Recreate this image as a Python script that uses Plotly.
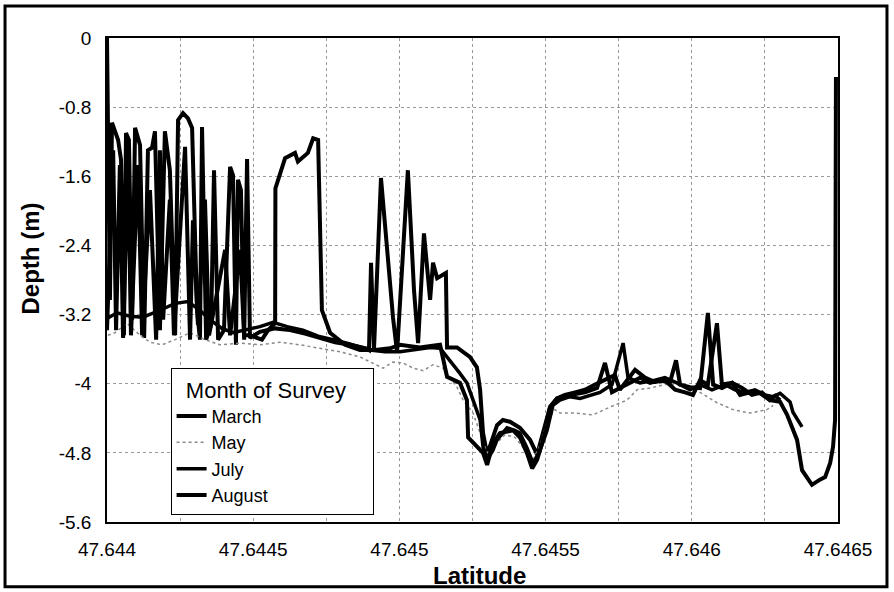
import plotly.graph_objects as go

# ---------------- data ----------------
march_lat = [47.644000, 47.644003, 47.644010, 47.644017, 47.644038, 47.644048, 47.644058, 47.644065,
             47.644075, 47.644086, 47.644096, 47.644113, 47.644127, 47.644140, 47.644154, 47.644164,
             47.644181, 47.644198, 47.644215, 47.644233, 47.644243, 47.644260, 47.644277, 47.644291,
             47.644308, 47.644318, 47.644325, 47.644339, 47.644356, 47.644366, 47.644380, 47.644400,
             47.644421, 47.644431, 47.644441, 47.644448, 47.644458, 47.644469, 47.644479, 47.644489,
             47.644523, 47.644575, 47.644626, 47.644677, 47.644728, 47.644780, 47.644831, 47.644886,
             47.644896, 47.644903, 47.644913, 47.644937, 47.644978, 47.644992, 47.645029, 47.645050,
             47.645064, 47.645084, 47.645105, 47.645115, 47.645129, 47.645159, 47.645163, 47.645197,
             47.645241, 47.645265, 47.645276, 47.645286, 47.645300, 47.645317, 47.645334, 47.645354,
             47.645378, 47.645412, 47.645447, 47.645471, 47.645491, 47.645515, 47.645539, 47.645583,
             47.645635, 47.645676, 47.645703, 47.645727, 47.645754, 47.645789, 47.645823, 47.645857,
             47.645891, 47.645925, 47.645946, 47.645960, 47.645994, 47.646028, 47.646055, 47.646073,
             47.646103, 47.646138, 47.646165, 47.646199, 47.646233, 47.646267, 47.646302, 47.646326,
             47.646360, 47.646377, 47.646411, 47.646438, 47.646456, 47.646473, 47.646483, 47.646490,
             47.646493]
march_depth = [0.00, -0.83, -3.03, -0.98, -1.18, -1.41, -3.44, -1.10,
               -1.18, -3.26, -1.04, -1.24, -3.47, -1.30, -1.27, -1.08,
               -3.38, -1.08, -1.53, -3.44, -0.95, -0.87, -0.93, -1.04,
               -3.15, -3.49, -1.03, -3.49, -3.32, -1.53, -3.49, -3.38,
               -1.49, -1.59, -3.55, -1.64, -1.76, -3.49, -1.40, -3.47,
               -3.40, -3.36, -3.38, -3.42, -3.47, -3.52, -3.55, -3.59,
               -3.61, -2.60, -3.61, -1.62, -3.23, -3.64, -1.53, -2.92,
               -3.53, -2.26, -3.03, -2.60, -2.78, -2.72, -3.58, -3.58,
               -3.69, -3.81, -4.07, -4.57, -4.82, -4.65, -4.48, -4.42,
               -4.44, -4.51, -4.65, -4.82, -4.57, -4.27, -4.17, -4.13,
               -4.10, -4.05, -3.76, -4.10, -4.05, -3.99, -3.93, -3.99,
               -3.96, -3.99, -3.73, -4.01, -4.04, -4.05, -3.18, -4.01,
               -4.05, -3.99, -4.13, -4.10, -4.11, -4.19, -4.21, -4.36,
               -4.65, -5.00, -5.17, -5.11, -5.08, -4.92, -4.73, -4.42,
               -0.45]

may_lat = [47.644003, 47.644027, 47.644068, 47.644113, 47.644147, 47.644188, 47.644233, 47.644284,
           47.644335, 47.644386, 47.644455, 47.644523, 47.644592, 47.644660, 47.644728, 47.644797,
           47.644865, 47.644944, 47.644978, 47.645012, 47.645047, 47.645081, 47.645115, 47.645149,
           47.645197, 47.645218, 47.645252, 47.645276, 47.645300, 47.645327, 47.645361, 47.645395,
           47.645430, 47.645457, 47.645481, 47.645508, 47.645532, 47.645549, 47.645601, 47.645662,
           47.645720, 47.645778, 47.645813, 47.645857, 47.645908, 47.645960, 47.646028, 47.646086,
           47.646141, 47.646199, 47.646257, 47.646278]
may_depth = [-3.44, -3.41, -3.30, -3.44, -3.52, -3.55, -3.49, -3.41,
             -3.49, -3.55, -3.53, -3.55, -3.52, -3.55, -3.59, -3.63,
             -3.69, -3.82, -3.75, -3.76, -3.82, -3.85, -3.78, -3.82,
             -4.04, -4.19, -4.34, -4.57, -4.80, -4.71, -4.59, -4.62,
             -4.77, -4.88, -4.71, -4.42, -4.30, -4.34, -4.34, -4.36,
             -4.27, -4.19, -4.07, -4.05, -4.01, -4.01, -4.10, -4.22,
             -4.30, -4.34, -4.30, -4.25]

july_lat = [47.644003, 47.644034, 47.644079, 47.644123, 47.644181, 47.644233, 47.644277, 47.644318,
            47.644352, 47.644393, 47.644431, 47.644472, 47.644523, 47.644568, 47.644616, 47.644670,
            47.644722, 47.644773, 47.644821, 47.644899, 47.644951, 47.645002, 47.645053, 47.645105,
            47.645139, 47.645173, 47.645207, 47.645231, 47.645252, 47.645276, 47.645286, 47.645300,
            47.645320, 47.645334, 47.645368, 47.645395, 47.645412, 47.645436, 47.645457, 47.645481,
            47.645505, 47.645525, 47.645549, 47.645583, 47.645618, 47.645652, 47.645686, 47.645727,
            47.645765, 47.645782, 47.645823, 47.645874, 47.645908, 47.645949, 47.645994, 47.646028,
            47.646069, 47.646114, 47.646148, 47.646182, 47.646216, 47.646250, 47.646278, 47.646302,
            47.646336, 47.646346, 47.646377]
july_depth = [-3.24, -3.18, -3.22, -3.23, -3.15, -3.07, -3.05, -3.15,
              -3.26, -3.36, -3.41, -3.38, -3.34, -3.29, -3.34, -3.38,
              -3.45, -3.49, -3.53, -3.61, -3.63, -3.63, -3.61, -3.58,
              -3.59, -3.73, -3.88, -3.99, -4.19, -4.42, -4.73, -4.88,
              -4.77, -4.65, -4.51, -4.54, -4.57, -4.74, -4.92, -4.77,
              -4.54, -4.25, -4.19, -4.15, -4.17, -4.13, -4.10, -4.01,
              -3.53, -3.93, -3.99, -3.96, -3.93, -3.99, -4.07, -4.01,
              -4.07, -4.01, -4.07, -4.10, -4.07, -4.13, -4.15, -4.11,
              -4.21, -4.33, -4.50]

august_lat = [47.644000, 47.644021, 47.644031, 47.644044, 47.644055, 47.644072, 47.644082, 47.644106,
              47.644120, 47.644147, 47.644168, 47.644181, 47.644192, 47.644215, 47.644229, 47.644267,
              47.644284, 47.644294, 47.644311, 47.644335, 47.644349, 47.644404, 47.644421, 47.644455,
              47.644469, 47.644489, 47.644530, 47.644551, 47.644575, 47.644576, 47.644609, 47.644643,
              47.644653, 47.644687, 47.644705, 47.644722, 47.644735, 47.644763, 47.644814, 47.644865,
              47.644917, 47.644968, 47.645002, 47.645070, 47.645139, 47.645163, 47.645207, 47.645231,
              47.645235, 47.645265, 47.645286, 47.645300, 47.645320, 47.645344, 47.645389, 47.645412,
              47.645436, 47.645454, 47.645471, 47.645505, 47.645515, 47.645539, 47.645566, 47.645601,
              47.645635, 47.645669, 47.645703, 47.645737, 47.645754, 47.645806, 47.645840, 47.645874,
              47.645908, 47.645943, 47.645977, 47.646004, 47.646028, 47.646055, 47.646086, 47.646103,
              47.646138, 47.646172, 47.646206, 47.646240, 47.646267, 47.646285, 47.646302]
august_depth = [-3.38, -1.30, -3.38, -1.47, -3.47, -1.41, -3.44, -1.47,
                -3.44, -1.76, -3.49, -1.30, -3.26, -1.87, -3.44, -1.26,
                -3.49, -2.11, -3.32, -1.87, -3.44, -2.45, -3.44, -2.45,
                -3.44, -3.44, -3.49, -3.38, -3.30, -1.74, -1.39, -1.33,
                -1.43, -1.33, -1.16, -1.18, -3.15, -3.41, -3.55, -3.61,
                -3.61, -3.59, -3.55, -3.58, -3.55, -3.92, -3.99, -4.19,
                -4.62, -4.73, -4.80, -4.94, -4.69, -4.57, -4.54, -4.62,
                -4.80, -4.98, -4.88, -4.50, -4.27, -4.17, -4.13, -4.10,
                -4.07, -4.01, -3.96, -3.90, -4.07, -3.84, -3.93, -3.98,
                -3.96, -4.07, -4.10, -4.13, -3.96, -4.01, -3.30, -4.01,
                -3.99, -4.05, -4.13, -4.10, -4.19, -4.14, -4.19]

y_tick_vals = [0, -0.8, -1.6, -2.4, -3.2, -4.0, -4.8, -5.6]
y_tick_text = ["0", "-0.8", "-1.6", "-2.4", "-3.2", "-4", "-4.8", "-5.6"]
x_tick_vals = [47.644, 47.64425, 47.6445, 47.64475, 47.645, 47.64525, 47.6455,
               47.64575, 47.646, 47.64625, 47.6465]
x_tick_text = ["47.644", "", "47.6445", "", "47.645", "", "47.6455",
               "", "47.646", "", "47.6465"]

# ---------------- figure ----------------
FONT = "Liberation Sans, Arial, sans-serif"
NB = "\u00a0"
fig = go.Figure()
fig.add_trace(go.Scatter(x=march_lat, y=march_depth, mode="lines", name="March",
                         line=dict(color="black", width=4)))
fig.add_trace(go.Scatter(x=may_lat, y=may_depth, mode="lines", name="May",
                         line=dict(color="#8a8a8a", width=1.5, dash="dot")))
fig.add_trace(go.Scatter(x=july_lat, y=july_depth, mode="lines", name="July",
                         line=dict(color="black", width=3.5)))
fig.add_trace(go.Scatter(x=august_lat, y=august_depth, mode="lines", name="August",
                         line=dict(color="black", width=4)))

fig.update_layout(
    width=894, height=592,
    margin=dict(l=107, r=56, t=38, b=70),
    paper_bgcolor="white", plot_bgcolor="white",
    font=dict(family=FONT, color="black", size=19),
    legend=dict(
        x=0.087, y=0.318, xanchor="left", yanchor="top",
        bgcolor="white", bordercolor="black", borderwidth=1,
        font=dict(family=FONT, size=18, color="black"),
        title=dict(text=NB * 2 + "Month of Survey" + NB * 4,
                   font=dict(family=FONT, size=22, color="black")),
        tracegroupgap=0,
    ),
    xaxis=dict(
        range=[47.644, 47.6465], tickmode="array", tickvals=x_tick_vals, ticktext=x_tick_text,
        showgrid=True, gridcolor="#9a9a9a", griddash="dot", gridwidth=1,
        showline=True, linecolor="black", linewidth=1.5, mirror=True,
        ticks="", zeroline=False, ticklabelstandoff=9,
        tickfont=dict(family=FONT, size=19, color="black"),
    ),
    yaxis=dict(
        range=[-5.6, 0], tickmode="array", tickvals=y_tick_vals, ticktext=y_tick_text,
        showgrid=True, gridcolor="#9a9a9a", griddash="dot", gridwidth=1,
        showline=True, linecolor="black", linewidth=1.5, mirror=True,
        ticks="", zeroline=False, ticklabelstandoff=10,
        tickfont=dict(family=FONT, size=19, color="black"),
    ),
    annotations=[
        dict(text="<b>Depth (m)</b>", xref="paper", yref="paper", x=-0.105, y=0.545,
             textangle=-90, showarrow=False, xanchor="center", yanchor="middle",
             font=dict(family=FONT, size=24, color="black")),
        dict(text="<b>Latitude</b>", xref="paper", yref="paper", x=0.51, y=-0.11,
             showarrow=False, xanchor="center", yanchor="middle",
             font=dict(family=FONT, size=24, color="black")),
    ],
    shapes=[dict(type="rect", xref="paper", yref="paper",
                 x0=-0.1395, x1=1.0670, y0=-0.1340, y1=1.0660,
                 line=dict(color="black", width=3), fillcolor="rgba(0,0,0,0)", layer="above")],
)

fig.write_html("out.html", config={"displayModeBar": False},
               post_script="document.body.style.margin='0';document.body.style.overflow='hidden';")
